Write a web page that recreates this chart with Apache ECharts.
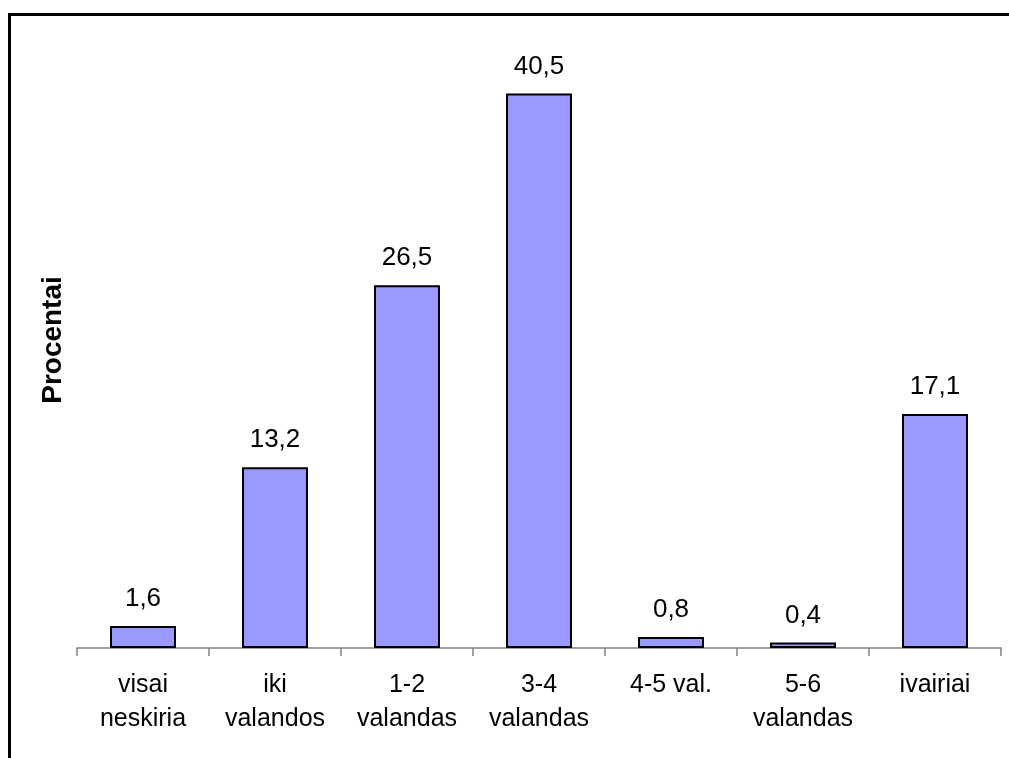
<!DOCTYPE html>
<html><head><meta charset="utf-8">
<script src="https://cdn.jsdelivr.net/npm/echarts@6/dist/echarts.min.js"></script>
<style>html,body{margin:0;padding:0;background:#fff}#c{width:1009px;height:758px}</style>
</head><body><div id="c"></div>
<script>
const categories = ['visai\nneskiria', 'iki\nvalandos', '1-2\nvalandas', '3-4\nvalandas', '4-5 val.', '5-6\nvalandas', 'ivairiai'];
const values = [1.6, 13.2, 26.5, 40.5, 0.8, 0.4, 17.1];
const yName = 'Procentai';

const chart = echarts.init(document.getElementById('c'), null, {renderer: 'canvas'});
chart.setOption({
  backgroundColor: '#fff',
  animation: false,
  textStyle: {fontFamily: 'Liberation Sans, Arial, sans-serif'},
  grid: {left: 77, right: 8, top: 32, bottom: 110},
  graphic: [{
    type: 'rect', left: 7, top: 12, silent: true,
    shape: {x: 0, y: 0, width: 1010, height: 760},
    style: {fill: 'none', stroke: '#000', lineWidth: 3}
  }],
  xAxis: {
    type: 'category', data: categories,
    axisLine: {show: true, lineStyle: {color: '#808080', width: 1.5}},
    axisTick: {show: true, length: 8, lineStyle: {color: '#808080', width: 1.5}},
    axisLabel: {color: '#000', fontSize: 25, lineHeight: 34, margin: 20, interval: 0,
                fontFamily: 'Liberation Sans, Arial, sans-serif'}
  },
  yAxis: {
    type: 'value', min: 0, max: 45,
    name: yName, nameLocation: 'middle', nameGap: 10,
    nameTextStyle: {color: '#000', fontSize: 28, fontWeight: 'bold', fontFamily: 'Liberation Sans, Arial, sans-serif'},
    axisLine: {show: false}, axisTick: {show: false}, axisLabel: {show: false},
    splitLine: {show: false}
  },
  series: [{
    type: 'bar', data: values, barWidth: '50%',
    itemStyle: {color: '#9999FF', borderColor: '#000', borderWidth: 2},
    label: {show: true, position: 'top', distance: 14, color: '#000', fontSize: 26,
            lineHeight: 26, fontFamily: 'Liberation Sans, Arial, sans-serif',
            formatter: p => String(p.value).replace('.', ',')}
  }]
});
</script></body></html>
